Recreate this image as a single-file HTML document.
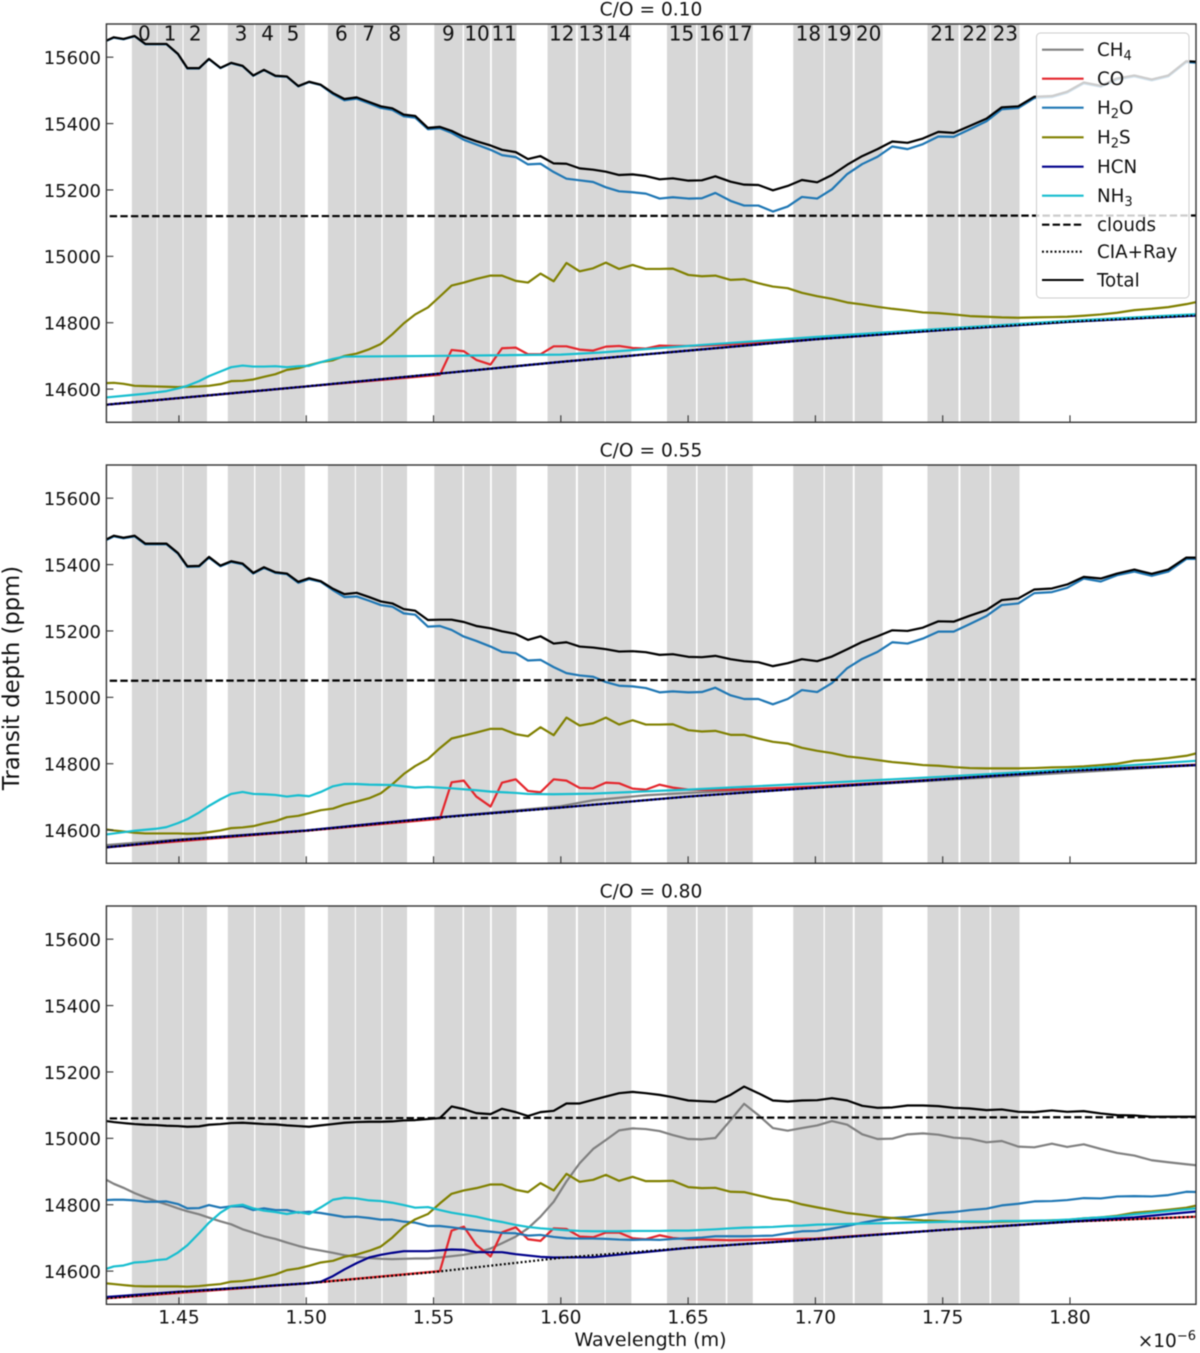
<!DOCTYPE html>
<html lang="en">
<head>
<meta charset="utf-8">
<title>Transit depth spectra by C/O ratio</title>
<style>
html,body{margin:0;padding:0;background:#fff;width:1200px;height:1353px;overflow:hidden}
svg{display:block;filter:blur(0.4px)}
text{font-family:"DejaVu Sans","Liberation Sans",sans-serif;fill:#111}
</style>
</head>
<body>
<svg id="figure" xmlns="http://www.w3.org/2000/svg" width="1200" height="1353" viewBox="0 0 1200 1353">
  <rect x="0" y="0" width="1200" height="1353" fill="#fff"/>
  <g id="panels"></g>
  <text x="19" y="678" font-size="22.7" text-anchor="middle" transform="rotate(-90 19 678)">Transit depth (ppm)</text>
  <text x="650.5" y="1346" font-size="19" text-anchor="middle">Wavelength (m)</text>
  <text x="1196" y="1347" font-size="18.5" text-anchor="end">×10<tspan font-size="13" dy="-7">−6</tspan></text>
  <g id="legend">
    <rect x="1036.5" y="33" width="152.5" height="265" rx="4" fill="#fff" fill-opacity="0.8" stroke="#ccc" stroke-width="1"/>
    <g><line x1="1042" x2="1083.6" y1="49.7" y2="49.7" stroke="#808080" stroke-width="2.1"/><text x="1097" y="56" font-size="18.3">CH<tspan font-size="13" dy="4">4</tspan></text></g>
    <g><line x1="1042" x2="1083.6" y1="78.7" y2="78.7" stroke="#e4262c" stroke-width="2.1"/><text x="1097" y="85" font-size="18.3">CO</text></g>
    <g><line x1="1042" x2="1083.6" y1="107.7" y2="107.7" stroke="#1f77b4" stroke-width="2.1"/><text x="1097" y="114" font-size="18.3">H<tspan font-size="13" dy="4">2</tspan><tspan dy="-4">O</tspan></text></g>
    <g><line x1="1042" x2="1083.6" y1="137.3" y2="137.3" stroke="#808000" stroke-width="2.1"/><text x="1097" y="143.6" font-size="18.3">H<tspan font-size="13" dy="4">2</tspan><tspan dy="-4">S</tspan></text></g>
    <g><line x1="1042" x2="1083.6" y1="166.7" y2="166.7" stroke="#00008b" stroke-width="2.1"/><text x="1097" y="173" font-size="18.3">HCN</text></g>
    <g><line x1="1042" x2="1083.6" y1="195.7" y2="195.7" stroke="#17becf" stroke-width="2.1"/><text x="1097" y="202" font-size="18.3">NH<tspan font-size="13" dy="4">3</tspan></text></g>
    <g><line x1="1042" x2="1083.6" y1="224.7" y2="224.7" stroke="#000" stroke-width="2.1" stroke-dasharray="7.4 3.2"/><text x="1097" y="231" font-size="18.3">clouds</text></g>
    <g><line x1="1042" x2="1083.6" y1="251.7" y2="251.7" stroke="#000" stroke-width="2.1" stroke-dasharray="1.9 2.3"/><text x="1097" y="258" font-size="18.3">CIA+Ray</text></g>
    <g><line x1="1042" x2="1083.6" y1="280" y2="280" stroke="#000" stroke-width="2.1"/><text x="1097" y="286.3" font-size="18.3">Total</text></g>
  </g>
</svg>
<script>
// Tick labels and categories
const xTicks = [1.45, 1.50, 1.55, 1.60, 1.65, 1.70, 1.75, 1.80];
const yTicks = [14600, 14800, 15000, 15200, 15400, 15600];
const titles = ["C/O = 0.10", "C/O = 0.55", "C/O = 0.80"];

// Spectral bins (microns)
const binStart = [1.4315,1.4416,1.4518,1.4692,1.4800,1.4901,1.5085,1.5195,1.5300,1.5503,1.5620,1.5729,1.5948,1.6067,1.6176,1.6417,1.6537,1.6654,1.6913,1.7037,1.7154,1.7440,1.7570,1.7690];
const binEnd = [1.4413,1.4514,1.4610,1.4795,1.4897,1.4995,1.5191,1.5295,1.5396,1.5614,1.5722,1.5826,1.6059,1.6172,1.6277,1.6531,1.6648,1.6754,1.7032,1.7147,1.7264,1.7562,1.7684,1.7802];

// Shared model wavelength grid (microns)
const wavelengths = [
1.4215,1.4244,1.4282,1.4326,1.4368,1.4410,1.4451,1.4496,1.4533,1.4579,
1.4618,1.4663,1.4705,1.4750,1.4792,1.4834,1.4879,1.4924,1.4969,1.5011,
1.5057,1.5105,1.5150,1.5198,1.5247,1.5293,1.5338,1.5383,1.5428,1.5478,
1.5525,1.5571,1.5619,1.5668,1.5724,1.5769,1.5823,1.5871,1.5920,1.5972,
1.6022,1.6074,1.6127,
1.6177,
1.6229,1.6282,1.6334,1.6388,1.6440,1.6501,1.6554,1.6607,1.6667,1.6720,
1.6776,1.6833,1.6891,1.6947,1.7007,1.7065,1.7125,1.7184,1.7244,1.7302,
1.7362,1.7422,1.7483,1.7543,1.7607,1.7672,1.7732,1.7797,1.7860,1.7929,
1.7989,1.8054,1.8121,1.8185,1.8253,1.8321,1.8386,1.8457,1.8506];

// Sparse grids
const baseWl = [1.4215,1.45,1.50,1.55,1.60,1.65,1.70,1.75,1.80,1.85];
const cloudsWl = [1.4228,1.8506];
const coWl = [1.4215,1.50,1.5525,1.5571,1.5619,1.5668,1.5724,1.5769,1.5823,1.5871,1.5920,1.5972,1.6022,1.6074,1.6127,1.6177,1.6229,1.6282,1.6334,1.6388,1.6440,1.6501,1.6554,1.6667,1.70,1.75,1.80,1.85];
const nh310Wl = [1.4215,1.4326,1.4368,1.4451,1.4496,1.4533,1.4579,1.4618,1.4663,1.4705,1.4750,1.4792,1.4834,1.4879,1.4924,1.4969,1.5011,1.5057,1.5105,1.5150,1.55,1.60,1.615,1.65,1.70,1.75,1.80,1.85];
const nh355Wl = [1.4215,1.4326,1.4410,1.4451,1.4496,1.4533,1.4579,1.4618,1.4663,1.4705,1.4750,1.4792,1.4834,1.4879,1.4924,1.4969,1.5011,1.5057,1.5105,1.5150,1.5198,1.5247,1.5338,1.5428,1.5478,1.5571,1.5668,1.5724,1.5823,1.5871,1.5972,1.6127,1.65,1.70,1.75,1.80,1.85];
const ch455Wl = [1.4215,1.45,1.50,1.55,1.60,1.6127,1.6334,1.65,1.6667,1.68,1.70,1.85];
const hcn80Wl = [1.4215,1.45,1.50,1.5057,1.5105,1.5150,1.5198,1.5247,1.5293,1.5338,1.5383,1.5478,1.5571,1.5619,1.5668,1.5769,1.5823,1.5920,1.5972,1.6127,1.65,1.70,1.75,1.80,1.8253,1.85];

// C/O = 0.10
const total10 = [
15650,15660,15655,15664,15640,15640,15640,15610,15567,15567,
15595,15568,15583,15574,15545,15562,15544,15542,15513,15526,
15517,15492,15474,15479,15465,15452,15446,15427,15423,15387,
15390,15378,15360,15347,15334,15321,15314,15293,15302,15280,
15279,15265,15261,
15255,
15245,15247,15242,15232,15235,15228,15229,15241,15225,15216,
15215,15199,15212,15230,15223,15245,15276,15302,15323,15346,
15342,15355,15375,15372,15393,15415,15449,15452,15481,15483,
15496,15524,15514,15536,15545,15533,15545,15588,15586];
const h2o10 = [
15649,15659,15654,15663,15639,15639,15639,15609,15566,15566,
15594,15567,15582,15573,15544,15561,15543,15541,15512,15525,
15516,15489,15470,15475,15461,15447,15441,15422,15418,15383,
15386,15372,15351,15337,15321,15305,15299,15277,15279,15254,
15234,15229,15224,
15208,
15196,15193,15189,15174,15178,15174,15175,15191,15167,15153,
15153,15135,15150,15179,15174,15202,15248,15278,15300,15331,
15323,15338,15361,15360,15383,15407,15443,15447,15477,15480,
15493,15521,15511,15533,15542,15530,15542,15585,15583];
const h2s10 = [
14618,14619,14616,14610,14609,14608,14607,14606,14607,14608,
14610,14615,14624,14625,14629,14637,14645,14658,14663,14672,
14681,14687,14700,14707,14720,14736,14765,14798,14825,14846,
14879,14912,14921,14932,14942,14942,14926,14921,14948,14925,
14980,14955,14964,
14981,
14962,14974,14962,14962,14963,14944,14940,14942,14929,14931,
14919,14909,14904,14890,14880,14872,14861,14855,14848,14842,
14837,14831,14829,14825,14820,14818,14816,14815,14816,14817,
14818,14821,14825,14830,14838,14842,14847,14856,14864];
const nh310 = [14575,14583,14586,14594,14602,14610,14624,14639,14653,14666,14671,14668,14668,14669,14666,14669,14670,14681,14691,14698,14700,14704,14710,14730,14757,14782,14806,14826];
const co10 = [14553,14608,14643,14718,14714,14688,14674,14723,14725,14705,14705,14729,14729,14719,14716,14728,14730,14724,14722,14731,14730,14730,14731,14735,14752,14779,14804,14822];
const ch410 = [14553,14573,14608,14645,14682,14716,14750,14778,14803,14822];
const hcn10 = [14553,14573,14608,14645,14682,14716,14750,14778,14803,14822];
const cia10 = [14553,14573,14608,14645,14682,14716,14750,14778,14803,14822];
const clouds10 = [15121,15123];

// C/O = 0.55
const total55 = [
15476,15487,15481,15487,15463,15463,15463,15435,15395,15396,
15423,15397,15410,15403,15375,15392,15377,15373,15348,15359,
15350,15327,15311,15315,15302,15289,15283,15266,15261,15233,
15234,15234,15227,15215,15208,15199,15191,15173,15184,15162,
15166,15153,15150,
15145,
15138,15139,15136,15128,15130,15122,15121,15125,15115,15109,
15106,15094,15103,15115,15109,15123,15145,15167,15184,15202,
15200,15210,15229,15228,15246,15263,15293,15298,15325,15328,
15340,15363,15358,15373,15385,15372,15385,15421,15421];
const h2o55 = [
15474,15485,15479,15485,15461,15461,15461,15433,15393,15394,
15421,15395,15408,15401,15373,15390,15375,15371,15345,15356,
15348,15323,15302,15304,15291,15278,15273,15253,15249,15213,
15215,15203,15183,15170,15153,15137,15133,15111,15113,15091,
15073,15066,15062,
15046,
15035,15033,15028,15015,15018,15015,15016,15029,15006,14995,
14995,14979,14995,15022,15016,15043,15088,15116,15137,15166,
15162,15177,15198,15198,15221,15245,15278,15283,15314,15317,
15330,15358,15349,15368,15379,15366,15379,15417,15417];
const h2s55 = [
14602,14599,14596,14592,14590,14590,14590,14590,14589,14590,
14594,14599,14606,14608,14612,14620,14627,14639,14643,14651,
14660,14665,14677,14686,14696,14711,14738,14769,14793,14814,
14847,14876,14885,14894,14905,14905,14889,14883,14910,14886,
14939,14915,14922,
14939,
14918,14931,14918,14918,14919,14901,14897,14899,14887,14887,
14876,14866,14861,14848,14839,14832,14822,14817,14811,14805,
14801,14796,14794,14790,14787,14786,14786,14786,14787,14789,
14790,14792,14796,14800,14809,14812,14817,14824,14833];
const nh355 = [14587,14598,14604,14609,14621,14633,14653,14673,14693,14709,14715,14709,14708,14706,14701,14705,14702,14715,14732,14739,14739,14737,14736,14728,14730,14726,14720,14716,14712,14709,14708,14710,14722,14741,14761,14783,14809];
const co55 = [14548,14598,14634,14744,14749,14701,14671,14743,14753,14718,14714,14753,14749,14727,14726,14743,14741,14725,14722,14737,14728,14722,14721,14722,14731,14754,14780,14797];
const ch455 = [14555,14572,14599,14637,14672,14690,14705,14712,14718,14722,14728,14796];
const hcn55 = [14548,14570,14599,14637,14668,14701,14728,14753,14779,14796];
const cia55 = [14548,14570,14598,14636,14668,14701,14728,14753,14779,14796];
const clouds55 = [15050,15054];

// C/O = 0.80
const total80 = [
15052,15049,15046,15043,15041,15040,15038,15037,15035,15036,
15041,15043,15046,15047,15045,15043,15042,15039,15037,15035,
15039,15043,15047,15049,15050,15050,15051,15054,15055,15058,
15061,15096,15088,15076,15073,15089,15079,15067,15079,15083,
15105,15105,15116,
15126,
15136,15140,15136,15131,15124,15114,15112,15110,15131,15156,
15136,15114,15111,15114,15115,15121,15114,15098,15092,15093,
15099,15099,15097,15092,15090,15085,15087,15080,15079,15084,
15080,15082,15075,15070,15069,15065,15065,15065,15065];
const ch480 = [
14875,14863,14851,14835,14822,14811,14801,14789,14780,14771,
14761,14750,14741,14726,14716,14705,14697,14686,14676,14668,
14662,14655,14648,14643,14639,14637,14636,14637,14638,14638,
14641,14645,14649,14656,14668,14684,14704,14729,14764,14809,
14870,14925,14968,
14995,
15024,15030,15028,15022,15010,14998,14997,15001,15055,15104,
15070,15031,15023,15031,15039,15052,15041,15012,14998,14999,
15012,15015,15011,15002,14999,14988,14992,14975,14973,14984,
14974,14982,14968,14956,14948,14934,14928,14922,14918];
const h2o80 = [
14814,14815,14815,14813,14809,14809,14810,14802,14789,14790,
14799,14791,14795,14795,14784,14789,14784,14784,14776,14779,
14775,14769,14763,14764,14760,14755,14755,14749,14746,14736,
14736,14732,14727,14723,14719,14715,14714,14707,14709,14703,
14699,14698,14698,
14697,
14695,14694,14695,14694,14697,14699,14701,14705,14705,14705,
14706,14707,14714,14720,14721,14728,14736,14746,14754,14760,
14763,14769,14775,14778,14784,14788,14798,14803,14810,14811,
14814,14820,14819,14825,14826,14825,14829,14839,14838];
const h2s80 = [
14563,14561,14558,14555,14554,14554,14554,14554,14553,14555,
14558,14561,14568,14570,14575,14582,14590,14603,14608,14616,
14626,14631,14643,14650,14661,14674,14701,14734,14756,14772,
14804,14833,14843,14850,14861,14861,14845,14838,14865,14843,
14893,14869,14875,
14890,
14872,14884,14871,14871,14872,14853,14850,14851,14839,14838,
14828,14818,14813,14801,14792,14784,14775,14770,14764,14760,
14756,14753,14751,14749,14748,14748,14749,14750,14751,14753,
14754,14759,14762,14767,14776,14780,14785,14791,14799];
const nh380 = [
14607,14614,14617,14626,14628,14633,14636,14656,14678,14714,
14746,14776,14796,14800,14789,14782,14778,14772,14778,14772,
14792,14815,14821,14819,14813,14811,14806,14799,14791,14793,
14784,14776,14770,14764,14754,14748,14739,14733,14729,14726,
14723,14721,14720,
14720,
14720,14721,14721,14721,14722,14722,14724,14726,14729,14731,
14732,14733,14736,14737,14740,14741,14742,14743,14744,14745,
14746,14747,14748,14749,14749,14749,14751,14751,14752,14753,
14755,14759,14762,14765,14771,14776,14781,14786,14790];
const co80 = [14518,14563,14600,14722,14734,14679,14644,14717,14732,14696,14691,14729,14727,14704,14702,14716,14716,14699,14696,14708,14700,14696,14695,14693,14698,14724,14749,14764];
const hcn80 = [14522,14538,14563,14568,14585,14605,14624,14641,14649,14655,14660,14660,14665,14664,14657,14657,14651,14643,14641,14642,14670,14696,14724,14749,14762,14780];
const cia80 = [14518,14537,14563,14597,14640,14670,14696,14724,14749,14764];
const clouds80 = [15060,15064];

// Axis functions
const xMin = 1.4215, xMax = 1.8495, yMin = 14500, yMax = 15700;
const plotLeft = 106.4, plotRight = 1196;
const plotTops = [24, 465, 906];
const plotHeight = 398.3;
const xScale = (w) => plotLeft + (w - xMin) / (xMax - xMin) * (plotRight - plotLeft);
const yScale = (v, top) => top + (yMax - v) / (yMax - yMin) * plotHeight;

const NS = "http://www.w3.org/2000/svg";
const root = document.getElementById("panels");

function drawSeries(parent, wl, vals, top, color, label, dash) {
  const path = document.createElementNS(NS, "path");
  
  
  let d = "";
  const n = Math.min(wl.length, vals.length);
  for (let i = 0; i < n; i++) {
    d += (i ? "L" : "M") + xScale(wl[i]).toFixed(2) + " " + yScale(vals[i], top).toFixed(2);
  }
  path.setAttribute("d", d);
  path.setAttribute("fill", "none");
  path.setAttribute("stroke", color);
  path.setAttribute("stroke-width", "2.2");
  path.setAttribute("stroke-linejoin", "round");
  if (dash) path.setAttribute("stroke-dasharray", dash);
  parent.appendChild(path);
}

const DASHED = "7.4 3.2";
const DOTTED = "1.9 2.3";
const panelSeries = [
  [
    [baseWl, ch410, "#808080", "ch4-line", null],
    [coWl, co10, "#e4262c", "co-line", null],
    [wavelengths, h2o10, "#1f77b4", "h2o-line", null],
    [wavelengths, h2s10, "#808000", "h2s-line", null],
    [baseWl, hcn10, "#00008b", "hcn-line", null],
    [nh310Wl, nh310, "#17becf", "nh3-line", null],
    [cloudsWl, clouds10, "#000", "clouds-line", DASHED],
    [baseWl, cia10, "#000", "cia-ray-line", DOTTED],
    [wavelengths, total10, "#000", "total-line", null]
  ],
  [
    [ch455Wl, ch455, "#808080", "ch4-line", null],
    [coWl, co55, "#e4262c", "co-line", null],
    [wavelengths, h2o55, "#1f77b4", "h2o-line", null],
    [wavelengths, h2s55, "#808000", "h2s-line", null],
    [baseWl, hcn55, "#00008b", "hcn-line", null],
    [nh355Wl, nh355, "#17becf", "nh3-line", null],
    [cloudsWl, clouds55, "#000", "clouds-line", DASHED],
    [baseWl, cia55, "#000", "cia-ray-line", DOTTED],
    [wavelengths, total55, "#000", "total-line", null]
  ],
  [
    [wavelengths, ch480, "#808080", "ch4-line", null],
    [coWl, co80, "#e4262c", "co-line", null],
    [wavelengths, h2o80, "#1f77b4", "h2o-line", null],
    [wavelengths, h2s80, "#808000", "h2s-line", null],
    [hcn80Wl, hcn80, "#00008b", "hcn-line", null],
    [wavelengths, nh380, "#17becf", "nh3-line", null],
    [cloudsWl, clouds80, "#000", "clouds-line", DASHED],
    [baseWl, cia80, "#000", "cia-ray-line", DOTTED],
    [wavelengths, total80, "#000", "total-line", null]
  ]
];

plotTops.forEach((top, p) => {
  const g = document.createElementNS(NS, "g");
  
  
  root.appendChild(g);

  const clip = document.createElementNS(NS, "clipPath");
  clip.setAttribute("id", "clip-" + p);
  const clipRect = document.createElementNS(NS, "rect");
  clipRect.setAttribute("x", plotLeft);
  clipRect.setAttribute("y", top);
  clipRect.setAttribute("width", plotRight - plotLeft);
  clipRect.setAttribute("height", plotHeight);
  clip.appendChild(clipRect);
  g.appendChild(clip);

  // Spectral bins
  binStart.forEach((start, i) => {
    const band = document.createElementNS(NS, "rect");
    
    
    band.setAttribute("x", xScale(start));
    band.setAttribute("y", top);
    band.setAttribute("width", xScale(binEnd[i]) - xScale(start));
    band.setAttribute("height", plotHeight);
    band.setAttribute("fill", "#d7d7d7");
    g.appendChild(band);
  });

  // Series
  const lines = document.createElementNS(NS, "g");
  
  
  lines.setAttribute("clip-path", "url(#clip-" + p + ")");
  g.appendChild(lines);
  panelSeries[p].forEach((s) => {
    drawSeries(lines, s[0], s[1], top, s[2], s[3], s[4]);
  });

  // Frame
  const frame = document.createElementNS(NS, "rect");
  
  
  frame.setAttribute("x", plotLeft);
  frame.setAttribute("y", top);
  frame.setAttribute("width", plotRight - plotLeft);
  frame.setAttribute("height", plotHeight);
  frame.setAttribute("fill", "none");
  frame.setAttribute("stroke", "#333");
  frame.setAttribute("stroke-width", "1.4");
  g.appendChild(frame);

  // Y ticks
  yTicks.forEach((v) => {
    const y = yScale(v, top);
    const tick = document.createElementNS(NS, "line");
    
    
    tick.setAttribute("x1", plotLeft);
    tick.setAttribute("x2", plotLeft + 7);
    tick.setAttribute("y1", y);
    tick.setAttribute("y2", y);
    tick.setAttribute("stroke", "#333");
    tick.setAttribute("stroke-width", "1.1");
    g.appendChild(tick);
    const label = document.createElementNS(NS, "text");
    
    
    label.setAttribute("x", 101);
    label.setAttribute("y", y + 6.8);
    label.setAttribute("font-size", "18");
    label.setAttribute("text-anchor", "end");
    label.textContent = String(v);
    g.appendChild(label);
  });

  // X ticks
  xTicks.forEach((w) => {
    const x = xScale(w);
    const tick = document.createElementNS(NS, "line");
    
    
    tick.setAttribute("x1", x);
    tick.setAttribute("x2", x);
    tick.setAttribute("y1", top + plotHeight);
    tick.setAttribute("y2", top + plotHeight - 7);
    tick.setAttribute("stroke", "#333");
    tick.setAttribute("stroke-width", "1.1");
    g.appendChild(tick);
    if (p === plotTops.length - 1) {
      const label = document.createElementNS(NS, "text");
      
      
      label.setAttribute("x", x);
      label.setAttribute("y", top + plotHeight + 19);
      label.setAttribute("font-size", "18.6");
      label.setAttribute("text-anchor", "middle");
      label.textContent = w.toFixed(2);
      g.appendChild(label);
    }
  });

  // Title
  const title = document.createElementNS(NS, "text");
  
  
  title.setAttribute("x", 651);
  title.setAttribute("y", top - 8.5);
  title.setAttribute("font-size", "18.6");
  title.setAttribute("text-anchor", "middle");
  title.textContent = titles[p];
  g.appendChild(title);

  // Bin numbers on the first panel
  if (p === 0) {
    binStart.forEach((start, i) => {
      const num = document.createElementNS(NS, "text");
      
      
      num.setAttribute("x", xScale((start + binEnd[i]) / 2));
      num.setAttribute("y", top + 16.5);
      num.setAttribute("font-size", "20");
      num.setAttribute("text-anchor", "middle");
      num.textContent = String(i);
      g.appendChild(num);
    });
  }
});
</script>
</body>
</html>
